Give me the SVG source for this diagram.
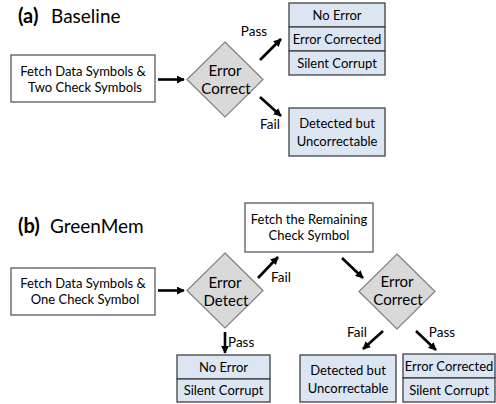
<svg xmlns="http://www.w3.org/2000/svg" width="496" height="404" viewBox="0 0 496 404">
<defs>
<marker id="ah" viewBox="0 0 10 10" refX="9" refY="5" markerWidth="8" markerHeight="8" markerUnits="userSpaceOnUse" orient="auto"><path d="M0,0 L10,5 L0,10 z" fill="#000"/></marker>
<style>
text{font-family:Lato,"Liberation Sans",sans-serif;font-size:13px;fill:#000;text-anchor:middle}
.title{font-size:19px;text-anchor:start}
.b{font-weight:bold;font-size:20px}
.dt{font-size:15px}
.lbl{font-size:13.5px}
.white{fill:#fff;stroke:#595959;stroke-width:1.3}
.blue{fill:#DCE6F2;stroke:#404040;stroke-width:1.3}
.dia{fill:#D9D9D9;stroke:#7F7F7F;stroke-width:1.2}
.arr{stroke:#000;stroke-width:2.6;fill:none;marker-end:url(#ah)}
</style>
</defs>
<text class="title b" x="18" y="23">(a)</text><text class="title" x="51" y="23">Baseline</text>
<text class="title b" x="18" y="233">(b)</text><text class="title" x="50" y="233">GreenMem</text>

<g id="a-fetch"><rect class="white" x="11" y="55" width="144" height="47"/><text x="83" y="76">Fetch Data Symbols &amp;</text><text x="85" y="92">Two Check Symbols</text></g>
<g id="a-correct"><path class="dia" d="M225,42 L263,79.5 L225,117 L187,79.5 Z"/><text class="dt" x="225" y="76">Error</text><text class="dt" x="226" y="94">Correct</text></g>
<g id="a-results"><rect class="blue" x="289" y="3" width="96" height="24"/><rect class="blue" x="289" y="27" width="96" height="24"/><rect class="blue" x="289" y="51" width="96" height="24"/><text x="337" y="20">No Error</text><text x="337" y="44">Error Corrected</text><text x="337" y="68">Silent Corrupt</text></g>
<g id="a-detected"><rect class="blue" x="289" y="108" width="96" height="48"/><text x="337" y="128">Detected but</text><text x="337" y="146">Uncorrectable</text></g>

<g id="b-fetch"><rect class="white" x="11" y="268" width="144" height="47"/><text x="83" y="288">Fetch Data Symbols &amp;</text><text x="85" y="304">One Check Symbol</text></g>
<g id="b-detect"><path class="dia" d="M225,253 L263,290.5 L225,328 L187,290.5 Z"/><text class="dt" x="225" y="288">Error</text><text class="dt" x="226" y="306">Detect</text></g>
<g id="b-results1"><rect class="blue" x="177" y="355" width="93" height="24"/><rect class="blue" x="177" y="379" width="93" height="23"/><text x="223.5" y="372">No Error</text><text x="223.5" y="395">Silent Corrupt</text></g>
<g id="b-fetch2"><rect class="white" x="245" y="203" width="128" height="49"/><text x="309" y="224">Fetch the Remaining</text><text x="309" y="240">Check Symbol</text></g>
<g id="b-correct"><path class="dia" d="M397,254 L435,291.5 L397,329 L359,291.5 Z"/><text class="dt" x="397" y="287">Error</text><text class="dt" x="398" y="305">Correct</text></g>
<g id="b-detected"><rect class="blue" x="300" y="355" width="96" height="47"/><text x="348" y="375">Detected but</text><text x="348" y="393">Uncorrectable</text></g>
<g id="b-results2"><rect class="blue" x="403" y="354" width="92" height="24"/><rect class="blue" x="403" y="378" width="92" height="24"/><text x="449" y="371">Error Corrected</text><text x="449" y="395">Silent Corrupt</text></g>

<g id="connectors">
<line class="arr" x1="158" y1="79.5" x2="184" y2="79.5"/>
<line class="arr" x1="260" y1="60" x2="281" y2="39"/>
<line class="arr" x1="260" y1="97" x2="281" y2="116"/>
<line class="arr" x1="158" y1="290.5" x2="184" y2="290.5"/>
<line class="arr" x1="225" y1="332" x2="225" y2="353"/>
<line class="arr" x1="258" y1="278" x2="278" y2="257"/>
<line class="arr" x1="342" y1="258" x2="363" y2="278"/>
<line class="arr" x1="383" y1="331" x2="363" y2="349"/>
<line class="arr" x1="416" y1="331" x2="436" y2="350"/>
<text class="lbl" x="254" y="36">Pass</text>
<text class="lbl" x="270" y="129">Fail</text>
<text class="lbl" x="228" y="347" style="text-anchor:start">Pass</text>
<text class="lbl" x="281" y="282">Fail</text>
<text class="lbl" x="357" y="337">Fail</text>
<text class="lbl" x="442" y="337">Pass</text>
</g>
</svg>
